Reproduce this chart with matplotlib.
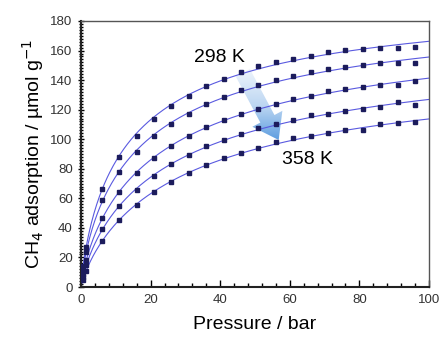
import matplotlib
matplotlib.use('Agg')
import matplotlib.pyplot as plt
import numpy as np
from matplotlib.patches import Polygon
from matplotlib.colors import LinearSegmentedColormap
from matplotlib.ticker import MultipleLocator

plt.rcParams['font.family'] = ['Liberation Sans', 'DejaVu Sans']

# pressure points (bar)
pressure = [0.5, 1.5, 6, 11, 16, 21, 26, 31, 36, 41, 46, 51, 56, 61, 66, 71, 76, 81, 86, 91, 96]

# CH4 uptake (umol/g), 298 K (top) to 358 K (bottom)
q_298 = [14, 27, 66.5, 88.2, 102.2, 113.7, 122.7, 129.5, 135.8, 140.8, 145.5, 149.6, 152.3,
         154.5, 156.6, 159.0, 160.4, 160.8, 161.7, 161.7, 162.2]
q_313 = [11, 24, 58.9, 77.8, 91.4, 102.2, 110.3, 117.1, 123.8, 128.4, 133.3, 136.7, 139.9,
         142.8, 145.3, 147.3, 148.9, 150.0, 151.4, 151.4, 151.6]
q_328 = [9, 18, 46.7, 64.1, 77.1, 87.3, 95.2, 102.0, 108.5, 113.0, 117.1, 120.7, 123.8,
         127.0, 129.3, 132.4, 134.0, 135.3, 136.5, 136.9, 139.4]
q_343 = [7, 15, 39.0, 54.6, 65.6, 75.3, 83.2, 89.3, 95.2, 99.3, 103.5, 107.4, 110.3,
         112.8, 116.2, 117.1, 119.3, 120.7, 122.0, 125.0, 123.4]
q_358 = [5, 11, 31.4, 45.1, 55.7, 64.1, 70.8, 77.1, 82.3, 87.1, 90.5, 93.8, 97.9,
         100.8, 102.4, 104.2, 106.5, 106.2, 110.3, 111.0, 111.7]

series = [q_298, q_313, q_328, q_343, q_358]


def sips_fit(p, q):
    # grid search over b and n, qm solved by least squares
    p = np.asarray(p, float)
    q = np.asarray(q, float)
    best = None
    for b in np.logspace(-3, 0, 150):
        for n in np.linspace(0.5, 1.3, 81):
            f = (b * p) ** n / (1 + (b * p) ** n)
            qm = np.dot(f, q) / np.dot(f, f)
            err = np.sum((qm * f - q) ** 2)
            if best is None or err < best[0]:
                best = (err, qm, b, n)
    return best[1:]


fig = plt.figure(figsize=(4.41, 3.42), dpi=100)
ax = fig.add_axes([0.1837, 0.1608, 0.7891, 0.7778])

p_fine = np.linspace(0, 100, 400)
for q in series:
    qm, b, n = sips_fit(pressure, q)
    ax.plot(p_fine, qm * (b * p_fine) ** n / (1 + (b * p_fine) ** n),
            color='#5a5ae0', lw=0.8, zorder=2)
    ax.plot(pressure, q, 's', color='#1c1c5c', ms=2.4, mec='#1c1c5c', zorder=3)

ax.set_xlim(0, 100)
ax.set_ylim(0, 180)

# gradient arrow, built in pixel space so it is not skewed by the axes aspect
tail = ax.transData.transform((46.5, 145))
tip = ax.transData.transform((56.8, 99.5))
d = tip - tail
L = np.hypot(*d)
u = d / L
nrm = np.array([-u[1], u[0]])
tw, hw, hl = 8, 17, 24
base = tip - u * hl
pts_px = [tail + nrm * tw, base + nrm * tw, base + nrm * hw, tip,
          base - nrm * hw, base - nrm * tw, tail - nrm * tw]
pts = ax.transData.inverted().transform(pts_px)
arrow = Polygon(pts, closed=True, facecolor='none', edgecolor='none', zorder=1)
ax.add_patch(arrow)
cmap = LinearSegmentedColormap.from_list('arr', ['#f4f8fd', '#bcd6f2', '#4a92dc'])
grad = np.linspace(0, 1, 256).reshape(-1, 1)
im = ax.imshow(grad, extent=(36, 68, 95, 150), origin='upper', cmap=cmap,
               aspect='auto', zorder=1)
im.set_clip_path(arrow)
ax.set_xlim(0, 100)
ax.set_ylim(0, 180)

ax.text(32.6, 155.6, '298 K', fontsize=14, va='center', ha='left')
ax.text(57.9, 86.6, '358 K', fontsize=14, va='center', ha='left')

ax.xaxis.set_major_locator(MultipleLocator(20))
ax.xaxis.set_minor_locator(MultipleLocator(4))
ax.yaxis.set_major_locator(MultipleLocator(20))
ax.yaxis.set_minor_locator(MultipleLocator(2))
ax.tick_params(axis='x', which='both', direction='in', top=False, labelsize=9.5, pad=5)
ax.tick_params(axis='y', which='both', direction='inout', right=False, labelsize=9.5)
ax.tick_params(which='major', length=5, width=1)
ax.tick_params(which='minor', length=3, width=1)
ax.tick_params(labelcolor='#333333')
for s in ax.spines.values():
    s.set_color('#555555')
    s.set_linewidth(1)
ax.spines['left'].set_color('#222222')
ax.spines['bottom'].set_color('#222222')
ax.spines['left'].set_linewidth(1.5)
ax.spines['bottom'].set_linewidth(1.5)

ax.set_xlabel('Pressure / bar', fontsize=14, labelpad=7)
ax.set_ylabel('CH$_4$ adsorption / µmol g$^{-1}$', fontsize=14, labelpad=3)

fig.savefig('out.png', dpi=100)
